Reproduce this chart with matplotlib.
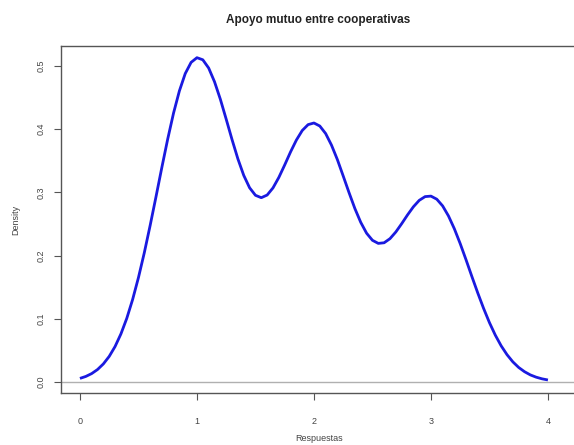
import matplotlib
matplotlib.use("Agg")
import matplotlib.pyplot as plt

title = "Apoyo mutuo entre cooperativas"
xlabel = "Respuestas"
ylabel = "Density"

# Density curve points (x = response, y = density)
resp_x = [0.00, 0.05, 0.10, 0.15, 0.20, 0.25, 0.30, 0.35, 0.40, 0.45,
          0.50, 0.55, 0.60, 0.65, 0.70, 0.75, 0.80, 0.85, 0.90, 0.95,
          1.00, 1.05, 1.10, 1.15, 1.20, 1.25, 1.30, 1.35, 1.40, 1.45,
          1.50, 1.55, 1.60, 1.65, 1.70, 1.75, 1.80, 1.85, 1.90, 1.95,
          2.00, 2.05, 2.10, 2.15, 2.20, 2.25, 2.30, 2.35, 2.40, 2.45,
          2.50, 2.55, 2.60, 2.65, 2.70, 2.75, 2.80, 2.85, 2.90, 2.95,
          3.00, 3.05, 3.10, 3.15, 3.20, 3.25, 3.30, 3.35, 3.40, 3.45,
          3.50, 3.55, 3.60, 3.65, 3.70, 3.75, 3.80, 3.85, 3.90, 3.95,
          4.00]
density = [0.0057, 0.0088, 0.0133, 0.0197, 0.0286, 0.0405, 0.0561, 0.0760, 0.1006, 0.1304,
           0.1652, 0.2045, 0.2477, 0.2931, 0.3395, 0.3843, 0.4255, 0.4606, 0.4880, 0.5057,
           0.5131, 0.5098, 0.4968, 0.4751, 0.4474, 0.4158, 0.3835, 0.3530, 0.3269, 0.3073,
           0.2954, 0.2916, 0.2958, 0.3071, 0.3237, 0.3434, 0.3640, 0.3828, 0.3979, 0.4072,
           0.4098, 0.4050, 0.3931, 0.3748, 0.3520, 0.3260, 0.2996, 0.2744, 0.2526, 0.2354,
           0.2242, 0.2193, 0.2203, 0.2268, 0.2374, 0.2505, 0.2644, 0.2772, 0.2874, 0.2933,
           0.2941, 0.2892, 0.2786, 0.2627, 0.2425, 0.2190, 0.1934, 0.1669, 0.1410, 0.1165,
           0.0940, 0.0742, 0.0573, 0.0433, 0.0319, 0.0230, 0.0163, 0.0112, 0.0076, 0.0050,
           0.0032]

x_ticks = [0, 1, 2, 3, 4]
x_ticklabels = ["0", "1", "2", "3", "4"]
y_ticks = [0.0, 0.1, 0.2, 0.3, 0.4, 0.5]
y_ticklabels = ["0.0", "0.1", "0.2", "0.3", "0.4", "0.5"]

plt.rcParams['font.family'] = ['Liberation Sans', 'DejaVu Sans']

W, H = 574, 445
fig = plt.figure(figsize=(W / 100, H / 100), dpi=100)
left, right, top, bottom = 61, 578, 46, 393
ax = fig.add_axes([left / W, 1 - bottom / H, (right - left) / W, (bottom - top) / H])

ax.axhline(0, color='#b0b0b0', lw=1.0, zorder=1)
ax.plot(resp_x, density, color='#1a1ae0', lw=2.0, solid_capstyle='butt', zorder=3)

ax.set_xlim(-0.162, 4.257)
ax.set_ylim(-0.0174, 0.5316)

for s in ax.spines.values():
    s.set_color('#555555')
    s.set_linewidth(1.0)

ax.set_xticks(x_ticks)
ax.set_xticklabels(x_ticklabels)
ax.set_yticks(y_ticks)
ax.set_yticklabels(y_ticklabels, rotation=90, va='center')
ax.tick_params(axis='both', direction='out', length=5, width=0.8,
               color='#555555', labelsize=6.5, labelcolor='#444444')
ax.tick_params(axis='x', pad=12)
ax.tick_params(axis='y', pad=6)

ax.set_xlabel(xlabel, fontsize=6.5, color='#444444', labelpad=6)
ax.set_ylabel(ylabel, fontsize=6.5, color='#444444', labelpad=12)

fig.text(318 / W, 1 - 20 / H, title, ha='center', va='center',
         fontsize=8.5, fontweight='bold', color='#222222')

fig.savefig('out.png', dpi=100)
